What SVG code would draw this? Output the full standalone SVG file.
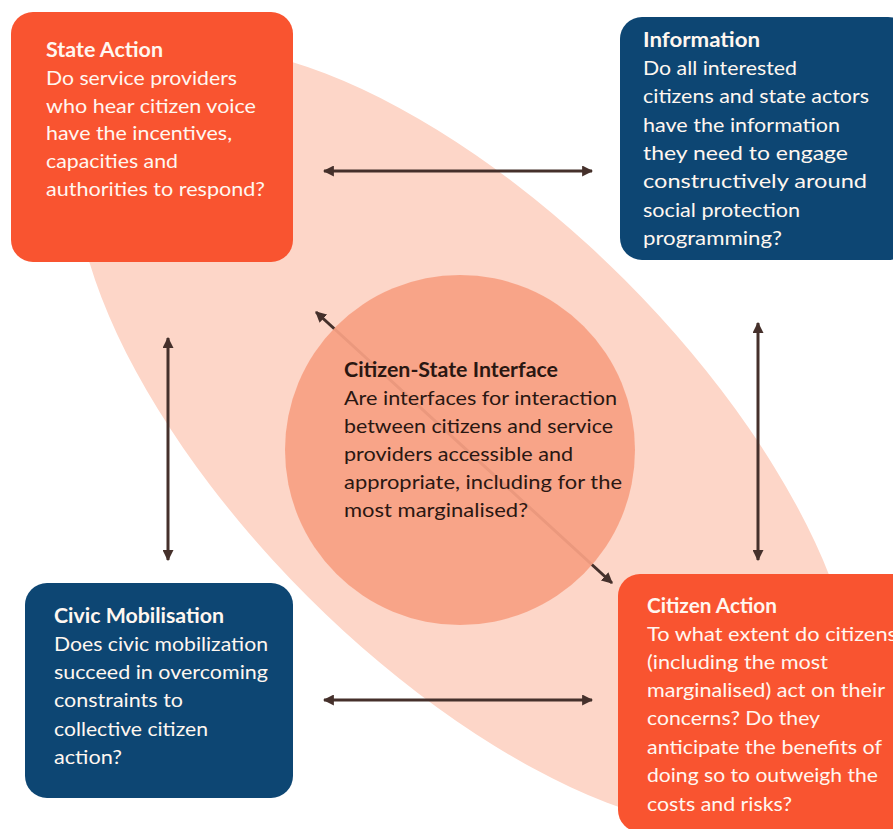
<svg xmlns="http://www.w3.org/2000/svg" width="893" height="829" viewBox="0 0 893 829">
<defs>
<style>
.t{font-family:Lato,"Open Sans","Liberation Sans",sans-serif;font-size:20px;fill:#FFF7F0}
.b{font-weight:bold}
.d{fill:#2A1712}
.orange{fill:#F95430}
.blue{fill:#0D4673}
.conn{stroke:#45302B;stroke-width:3;fill:none;marker-start:url(#ah);marker-end:url(#ah)}
</style>
<marker id="ah" viewBox="0 0 10 10" refX="9" refY="5" markerWidth="11" markerHeight="11" markerUnits="userSpaceOnUse" orient="auto-start-reverse">
<path d="M0,0 L10,5 L0,10 Z" fill="#45302B"/>
</marker>
</defs>
<rect width="893" height="829" fill="#FFFFFF"/>
<g id="background">
<ellipse cx="466" cy="438" rx="505" ry="224" transform="rotate(45 466 438)" fill="#FDD6C8"/>
</g>
<g id="connectors">
<line class="conn" x1="316" y1="312" x2="612" y2="583"/>
<line class="conn" x1="324" y1="171" x2="592" y2="171"/>
<line class="conn" x1="324" y1="700" x2="592" y2="700"/>
<line class="conn" x1="168" y1="338" x2="168" y2="560"/>
<line class="conn" x1="758" y1="323" x2="758" y2="560"/>
</g>
<g id="interface">
<circle cx="460" cy="450" r="175" fill="#F8A083" fill-opacity="0.93"/>
<text class="t d b" x="344" y="377" textLength="214" lengthAdjust="spacingAndGlyphs">Citizen-State Interface</text>
<text class="t d" x="344" y="405" textLength="273" lengthAdjust="spacingAndGlyphs">Are interfaces for interaction</text>
<text class="t d" x="344" y="433" textLength="269" lengthAdjust="spacingAndGlyphs">between citizens and service</text>
<text class="t d" x="344" y="461" textLength="229" lengthAdjust="spacingAndGlyphs">providers accessible and</text>
<text class="t d" x="344" y="489" textLength="278" lengthAdjust="spacingAndGlyphs">appropriate, including for the</text>
<text class="t d" x="344" y="517" textLength="184" lengthAdjust="spacingAndGlyphs">most marginalised?</text>
</g>
<g id="state-action">
<rect class="orange" x="11" y="12" width="282" height="250" rx="22"/>
<text class="t b" x="46" y="57" textLength="117" lengthAdjust="spacingAndGlyphs">State Action</text>
<text class="t" x="46" y="85" textLength="191" lengthAdjust="spacingAndGlyphs">Do service providers</text>
<text class="t" x="46" y="113" textLength="210" lengthAdjust="spacingAndGlyphs">who hear citizen voice</text>
<text class="t" x="46" y="140" textLength="186" lengthAdjust="spacingAndGlyphs">have the incentives,</text>
<text class="t" x="46" y="168" textLength="132" lengthAdjust="spacingAndGlyphs">capacities and</text>
<text class="t" x="46" y="196" textLength="219" lengthAdjust="spacingAndGlyphs">authorities to respond?</text>
</g>
<g id="information">
<rect class="blue" x="620" y="17" width="290" height="243" rx="22"/>
<text class="t b" x="643" y="47" textLength="117" lengthAdjust="spacingAndGlyphs">Information</text>
<text class="t" x="643" y="75" textLength="154" lengthAdjust="spacingAndGlyphs">Do all interested</text>
<text class="t" x="643" y="103" textLength="226" lengthAdjust="spacingAndGlyphs">citizens and state actors</text>
<text class="t" x="643" y="132" textLength="197" lengthAdjust="spacingAndGlyphs">have the information</text>
<text class="t" x="643" y="160" textLength="205" lengthAdjust="spacingAndGlyphs">they need to engage</text>
<text class="t" x="643" y="188" textLength="224" lengthAdjust="spacingAndGlyphs">constructively around</text>
<text class="t" x="643" y="217" textLength="157" lengthAdjust="spacingAndGlyphs">social protection</text>
<text class="t" x="643" y="245" textLength="139" lengthAdjust="spacingAndGlyphs">programming?</text>
</g>
<g id="civic-mobilisation">
<rect class="blue" x="25" y="583" width="268" height="215" rx="22"/>
<text class="t b" x="54" y="623" textLength="170" lengthAdjust="spacingAndGlyphs">Civic Mobilisation</text>
<text class="t" x="54" y="651" textLength="214" lengthAdjust="spacingAndGlyphs">Does civic mobilization</text>
<text class="t" x="54" y="679" textLength="214" lengthAdjust="spacingAndGlyphs">succeed in overcoming</text>
<text class="t" x="54" y="707" textLength="129" lengthAdjust="spacingAndGlyphs">constraints to</text>
<text class="t" x="54" y="736" textLength="154" lengthAdjust="spacingAndGlyphs">collective citizen</text>
<text class="t" x="54" y="764" textLength="68" lengthAdjust="spacingAndGlyphs">action?</text>
</g>
<g id="citizen-action">
<rect class="orange" x="618" y="574" width="300" height="258" rx="22"/>
<text class="t b" x="647" y="613" textLength="130" lengthAdjust="spacingAndGlyphs">Citizen Action</text>
<text class="t" x="647" y="641" textLength="250" lengthAdjust="spacingAndGlyphs">To what extent do citizens</text>
<text class="t" x="647" y="669" textLength="181" lengthAdjust="spacingAndGlyphs">(including the most</text>
<text class="t" x="647" y="697" textLength="238" lengthAdjust="spacingAndGlyphs">marginalised) act on their</text>
<text class="t" x="647" y="725" textLength="173" lengthAdjust="spacingAndGlyphs">concerns? Do they</text>
<text class="t" x="647" y="754" textLength="235" lengthAdjust="spacingAndGlyphs">anticipate the benefits of</text>
<text class="t" x="647" y="782" textLength="231" lengthAdjust="spacingAndGlyphs">doing so to outweigh the</text>
<text class="t" x="647" y="811" textLength="145" lengthAdjust="spacingAndGlyphs">costs and risks?</text>
</g>
</svg>
